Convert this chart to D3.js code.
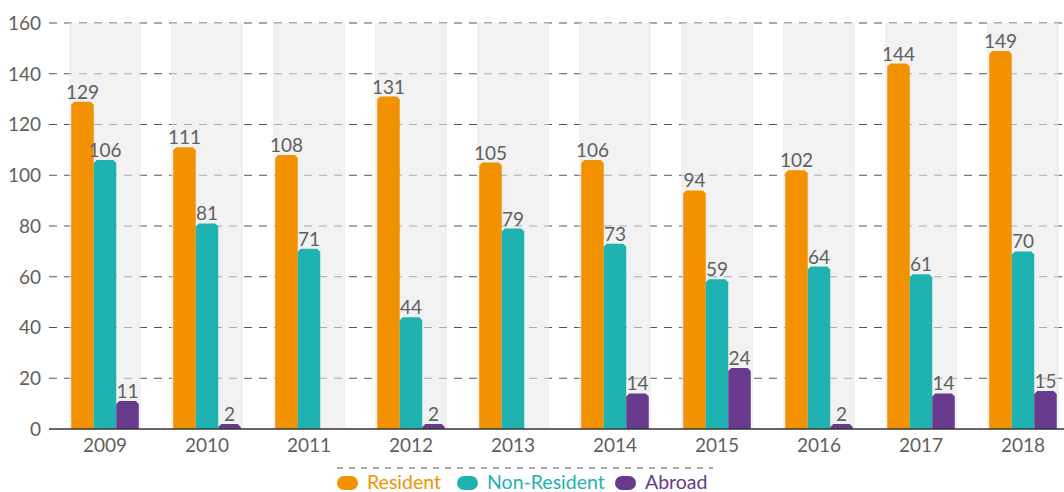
<!DOCTYPE html>
<html>
<head>
<meta charset="utf-8">
<script src="https://cdn.jsdelivr.net/npm/d3@7"></script>
<style>
  body { margin: 0; background: #fff; }
  text { font-family: Lato, "Noto Sans", sans-serif; }
</style>
</head>
<body>
<div id="chart"></div>
<script>
// chart data
var years = ["2009", "2010", "2011", "2012", "2013", "2014", "2015", "2016", "2017", "2018"];
var series = ["Resident", "Non-Resident", "Abroad"];
var resident = [129, 111, 108, 131, 105, 106, 94, 102, 144, 149];
var nonResident = [106, 81, 71, 44, 79, 73, 59, 64, 61, 70];
var abroad = [11, 2, 0, 2, 0, 14, 24, 2, 14, 15];
var yTicks = [0, 20, 40, 60, 80, 100, 120, 140, 160];
var colors = ["#f39200", "#1eb2b1", "#673a8e"];

var seriesValues = [resident, nonResident, abroad];

// set the dimensions and margins of the graph
var margin = {top: 23, right: 0, bottom: 63, left: 49},
    width = 1064 - margin.left - margin.right,
    height = 492 - margin.top - margin.bottom;

var svg = d3.select("#chart").append("svg")
    .attr("width", 1064)
    .attr("height", 492)
  .append("g")
    .attr("transform", "translate(" + margin.left + "," + margin.top + ")");

// scales
var x = d3.scaleBand().domain(years).range([0, 1030])
    .paddingInner(0.294).paddingOuter(0.196);
var x1 = d3.scaleBand().domain(series).range([0, x.bandwidth()])
    .paddingInner(0).paddingOuter(0.1);
var y = d3.scaleLinear().domain([0, 160]).range([height, 0]);

// grid lines
svg.append("g").selectAll("line")
    .data(yTicks.filter(function(d) { return d > 0; }))
  .enter().append("line")
    .attr("x1", 0).attr("x2", width)
    .attr("y1", function(d) { return y(d); })
    .attr("y2", function(d) { return y(d); })
    .attr("stroke", "#555")
    .attr("stroke-width", 1)
    .attr("stroke-dasharray", "8,7");

// grey bands behind each year
svg.append("g").selectAll("rect")
    .data(years)
  .enter().append("rect")
    .attr("x", function(d) { return x(d); })
    .attr("y", y(160))
    .attr("width", x.bandwidth())
    .attr("height", height - y(160))
    .attr("fill", "rgb(233,233,233)")
    .attr("fill-opacity", 0.58);

// bars with clipped top corners
function barPath(x0, w, yTop, yBot) {
  var c = Math.min(3, (yBot - yTop));
  return "M" + x0 + "," + yBot +
    "V" + (yTop + c) +
    "L" + (x0 + c) + "," + yTop +
    "H" + (x0 + w - c) +
    "L" + (x0 + w) + "," + (yTop + c) +
    "V" + yBot + "Z";
}

var groups = svg.append("g").selectAll("g")
    .data(years)
  .enter().append("g")
    .attr("transform", function(d) { return "translate(" + x(d) + ",0)"; });

groups.selectAll("path")
    .data(function(d, i) {
      return series.map(function(s, j) { return {key: s, value: seriesValues[j][i], color: colors[j]}; });
    })
  .enter().filter(function(d) { return d.value > 0; }).append("path")
    .attr("d", function(d) { return barPath(x1(d.key), x1.bandwidth(), y(d.value), y(0)); })
    .attr("fill", function(d) { return d.color; });

groups.selectAll("text")
    .data(function(d, i) {
      return series.map(function(s, j) { return {key: s, value: seriesValues[j][i]}; });
    })
  .enter().filter(function(d) { return d.value > 0; }).append("text")
    .attr("x", function(d) { return x1(d.key) + x1.bandwidth() / 2; })
    .attr("y", function(d) { return y(d.value) - 3; })
    .attr("text-anchor", "middle")
    .attr("fill", "#606060")
    .style("font-size", "19px")
    .text(function(d) { return d.value; });

// zero axis line
svg.append("line")
    .attr("x1", 0).attr("x2", width)
    .attr("y1", y(0)).attr("y2", y(0))
    .attr("stroke", "#333")
    .attr("stroke-width", 1.5);

// Y axis labels
svg.append("g").selectAll("text")
    .data(yTicks)
  .enter().append("text")
    .attr("x", -8)
    .attr("y", function(d) { return y(d); })
    .attr("dy", "0.36em")
    .attr("text-anchor", "end")
    .attr("fill", "#606060")
    .style("font-size", "19px")
    .text(function(d) { return d; });

// X axis labels
svg.append("g").selectAll("text")
    .data(years)
  .enter().append("text")
    .attr("x", function(d) { return x(d) + x.bandwidth() / 2; })
    .attr("y", y(0) + 23)
    .attr("text-anchor", "middle")
    .attr("fill", "#606060")
    .style("font-size", "19px")
    .text(function(d) { return d; });

// legend
var legend = d3.select("svg").append("g");
legend.append("line")
    .attr("x1", 337).attr("x2", 713)
    .attr("y1", 468).attr("y2", 468)
    .attr("stroke", "#555")
    .attr("stroke-dasharray", "6,6");

var legendX = [337, 457, 615];
series.forEach(function(s, i) {
  legend.append("rect")
      .attr("x", legendX[i]).attr("y", 476)
      .attr("width", 21).attr("height", 14)
      .attr("rx", 7)
      .attr("fill", colors[i]);
  legend.append("text")
      .attr("x", legendX[i] + 30)
      .attr("y", 489)
      .attr("fill", colors[i])
      .style("font-size", "19.5px")
      .text(s);
});
</script>
</body>
</html>
